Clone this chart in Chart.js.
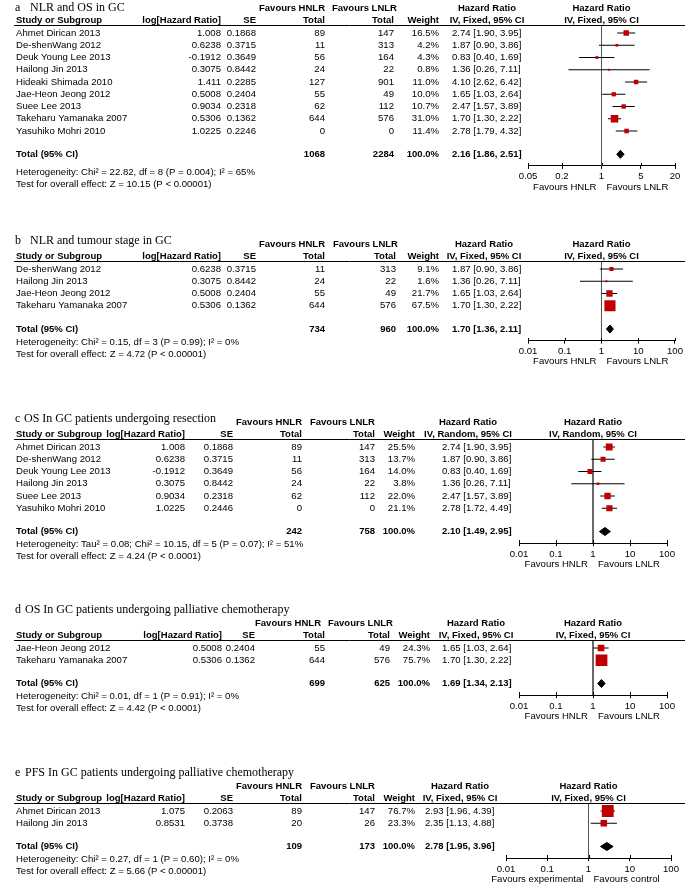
<!DOCTYPE html>
<html>
<head>
<meta charset="utf-8">
<script src="https://cdn.jsdelivr.net/npm/chart.js@4.4.1/dist/chart.umd.min.js"></script>
<style>
  body { margin: 0; background: #fff; }
  #wrap { position: relative; width: 685px; height: 884px; overflow: hidden; }
  #wrap canvas { position: absolute; left: 0; }
</style>
</head>
<body>
<div id="wrap">
  <canvas id="pa"></canvas>
  <canvas id="pb"></canvas>
  <canvas id="pc"></canvas>
  <canvas id="pd"></canvas>
  <canvas id="pe"></canvas>
</div>
<script>
// ---- data ----
// a: NLR and OS in GC
const aStudy = ['Ahmet Dirican 2013', 'De-shenWang 2012', 'Deuk Young Lee 2013', 'Hailong Jin 2013', 'Hideaki Shimada 2010', 'Jae-Heon Jeong 2012', 'Suee Lee 2013', 'Takeharu Yamanaka 2007', 'Yasuhiko Mohri 2010'];
const aLogHr = ['1.008', '0.6238', '-0.1912', '0.3075', '1.411', '0.5008', '0.9034', '0.5306', '1.0225'];
const aSe = ['0.1868', '0.3715', '0.3649', '0.8442', '0.2285', '0.2404', '0.2318', '0.1362', '0.2246'];
const aNh = [89, 11, 56, 24, 127, 55, 62, 644, 0];
const aNl = [147, 313, 164, 22, 901, 49, 112, 576, 0];
const aWeight = [16.5, 4.2, 4.3, 0.8, 11.0, 10.0, 10.7, 31.0, 11.4];
const aHr = [2.74, 1.87, 0.83, 1.36, 4.10, 1.65, 2.47, 1.70, 2.78];
const aLo = [1.90, 0.90, 0.40, 0.26, 2.62, 1.03, 1.57, 1.30, 1.79];
const aHi = [3.95, 3.86, 1.69, 7.11, 6.42, 2.64, 3.89, 2.22, 4.32];
const aTotal = [1068, 2284];
const aPooled = [2.16, 1.86, 2.51];
const aTicks = [0.05, 0.2, 1, 5, 20];
const aTickLabels = ['0.05', '0.2', '1', '5', '20'];

// b: NLR and tumour stage in GC
const bStudy = ['De-shenWang 2012', 'Hailong Jin 2013', 'Jae-Heon Jeong 2012', 'Takeharu Yamanaka 2007'];
const bLogHr = ['0.6238', '0.3075', '0.5008', '0.5306'];
const bSe = ['0.3715', '0.8442', '0.2404', '0.1362'];
const bNh = [11, 24, 55, 644];
const bNl = [313, 22, 49, 576];
const bWeight = [9.1, 1.6, 21.7, 67.5];
const bHr = [1.87, 1.36, 1.65, 1.70];
const bLo = [0.90, 0.26, 1.03, 1.30];
const bHi = [3.86, 7.11, 2.64, 2.22];
const bTotal = [734, 960];
const bPooled = [1.70, 1.36, 2.11];

// c: OS in GC patients undergoing resection
const cStudy = ['Ahmet Dirican 2013', 'De-shenWang 2012', 'Deuk Young Lee 2013', 'Hailong Jin 2013', 'Suee Lee 2013', 'Yasuhiko Mohri 2010'];
const cLogHr = ['1.008', '0.6238', '-0.1912', '0.3075', '0.9034', '1.0225'];
const cSe = ['0.1868', '0.3715', '0.3649', '0.8442', '0.2318', '0.2446'];
const cNh = [89, 11, 56, 24, 62, 0];
const cNl = [147, 313, 164, 22, 112, 0];
const cWeight = [25.5, 13.7, 14.0, 3.8, 22.0, 21.1];
const cHr = [2.74, 1.87, 0.83, 1.36, 2.47, 2.78];
const cLo = [1.90, 0.90, 0.40, 0.26, 1.57, 1.72];
const cHi = [3.95, 3.86, 1.69, 7.11, 3.89, 4.49];
const cTotal = [242, 758];
const cPooled = [2.10, 1.49, 2.95];

// d: OS in GC patients undergoing palliative chemotherapy
const dStudy = ['Jae-Heon Jeong 2012', 'Takeharu Yamanaka 2007'];
const dLogHr = ['0.5008', '0.5306'];
const dSe = ['0.2404', '0.1362'];
const dNh = [55, 644];
const dNl = [49, 576];
const dWeight = [24.3, 75.7];
const dHr = [1.65, 1.70];
const dLo = [1.03, 1.30];
const dHi = [2.64, 2.22];
const dTotal = [699, 625];
const dPooled = [1.69, 1.34, 2.13];

// e: PFS in GC patients undergoing palliative chemotherapy
const eStudy = ['Ahmet Dirican 2013', 'Hailong Jin 2013'];
const eLogHr = ['1.075', '0.8531'];
const eSe = ['0.2063', '0.3738'];
const eNh = [89, 20];
const eNl = [147, 26];
const eWeight = [76.7, 23.3];
const eHr = [2.93, 2.35];
const eLo = [1.96, 1.13];
const eHi = [4.39, 4.88];
const eTotal = [109, 173];
const ePooled = [2.78, 1.95, 3.96];

const wideTicks = [0.01, 0.1, 1, 10, 100];
const wideTickLabels = ['0.01', '0.1', '1', '10', '100'];

// ---- drawing ----
const SANS = "'Liberation Sans', Arial, sans-serif";
const SERIF = "'Liberation Serif', 'Times New Roman', serif";
const PITCH = 12.25;
const RED = '#c00000';
const REG = '9.6px ';
const BOLD = 'bold 9.5px ';

function ci(h, l, u) {
  return h.toFixed(2) + ' [' + l.toFixed(2) + ', ' + u.toFixed(2) + ']';
}

function forest(id, p, lay) {
  const n = p.study.length;
  const totalRow = n + 0.9;
  const axisRow = totalRow + 0.95;
  const hetRow = totalRow + lay.hetGap;
  const topRow = -0.65;
  const AX_H = 26;
  const chartH = (axisRow - topRow) * PITCH;
  const padTop = lay.head + topRow * PITCH;
  const H = Math.round(lay.head + axisRow * PITCH + 30);
  const padBottom = H - padTop - chartH - AX_H;

  const canvas = document.getElementById(id);
  canvas.width = 685;
  canvas.height = H;
  canvas.style.top = (lay.row0 - lay.head) + 'px';

  const squares = p.hr.map((v, i) => ({ x: v, y: i }));
  const radii = p.weight.map(w => Math.max(2, 1.35 * Math.sqrt(w)) / (2 * Math.SQRT1_2));
  const whiskers = [];
  p.lo.forEach((l, i) => {
    whiskers.push({ x: l, y: i }, { x: p.hi[i], y: i }, { x: 1, y: null });
  });
  const dh = 0.33;
  const [ph, pl, pu] = p.pooled;
  const diamond = [
    { x: pl, y: totalRow }, { x: ph, y: totalRow - dh }, { x: pu, y: totalRow },
    { x: ph, y: totalRow + dh }, { x: pl, y: totalRow }
  ];
  const noEffect = [{ x: 1, y: topRow }, { x: 1, y: axisRow }];

  const table = {
    id: 'table' + id,
    afterDraw(chart) {
      const { ctx, scales: { x, y } } = chart;
      const Y = r => y.getPixelForValue(r);
      const c = lay.cols;
      const mid = x.getPixelForValue(1);
      const text = (s, px, py, align, bold) => {
        ctx.font = (bold ? BOLD : REG) + SANS;
        ctx.textAlign = align;
        ctx.fillText(s, px, py);
      };
      ctx.save();
      ctx.fillStyle = '#000';
      ctx.textBaseline = 'middle';
      // title
      ctx.font = '12px ' + SERIF;
      ctx.textAlign = 'left';
      ctx.fillText(p.letter, 15, Y(lay.titleRow));
      ctx.fillText(p.title, lay.titleX, Y(lay.titleRow));
      // group headers
      text(p.fav[0], c.favH, Y(-2), 'right', true);
      text(p.fav[1], c.favL, Y(-2), 'left', true);
      text('Hazard Ratio', c.hrHead, Y(-2), 'center', true);
      text('Hazard Ratio', mid, Y(-2), 'center', true);
      // column headers
      text('Study or Subgroup', c.study, Y(-1), 'left', true);
      text('log[Hazard Ratio]', c.logHr, Y(-1), 'right', true);
      text('SE', c.se, Y(-1), 'right', true);
      text('Total', c.nh, Y(-1), 'right', true);
      text('Total', c.nl, Y(-1), 'right', true);
      text('Weight', c.wt, Y(-1), 'right', true);
      text(p.method, c.hrHead, Y(-1), 'center', true);
      text(p.method, mid, Y(-1), 'center', true);
      ctx.strokeStyle = '#000';
      ctx.lineWidth = 1;
      ctx.beginPath();
      const ry = Math.round(Y(topRow)) + 0.5;
      ctx.moveTo(14, ry);
      ctx.lineTo(685, ry);
      ctx.stroke();
      // upper halves of the axis tick marks
      const ay = Math.round(Y(axisRow));
      ctx.beginPath();
      x.ticks.forEach(t => {
        const tx = Math.round(x.getPixelForValue(t.value)) + 0.5;
        ctx.moveTo(tx, ay - 3);
        ctx.lineTo(tx, ay);
      });
      ctx.stroke();
      // study rows
      p.study.forEach((s, i) => {
        const py = Y(i);
        text(s, c.study, py, 'left');
        text(p.logHr[i], c.logHr, py, 'right');
        text(p.se[i], c.se, py, 'right');
        text(String(p.nh[i]), c.nh, py, 'right');
        text(String(p.nl[i]), c.nl, py, 'right');
        text(p.weight[i].toFixed(1) + '%', c.wt, py, 'right');
        text(ci(p.hr[i], p.lo[i], p.hi[i]), c.hr, py, 'left');
      });
      // total
      const ty = Y(totalRow);
      text('Total (95% CI)', c.study, ty, 'left', true);
      text(String(p.total[0]), c.nh, ty, 'right', true);
      text(String(p.total[1]), c.nl, ty, 'right', true);
      text('100.0%', c.wt, ty, 'right', true);
      text(ci(ph, pl, pu), c.hr, ty, 'left', true);
      text(p.het, c.study, Y(hetRow), 'left');
      text(p.test, c.study, Y(hetRow + 0.98), 'left');
      // favours under axis
      const fy = Y(axisRow) + 21;
      text(p.favAxis[0], mid - 5, fy, 'right');
      text(p.favAxis[1], mid + 5, fy, 'left');
      ctx.restore();
    }
  };

  return new Chart(canvas, {
    type: 'scatter',
    data: {
      datasets: [
        { type: 'scatter', data: squares, pointStyle: 'rect', pointRadius: radii,
          backgroundColor: RED, borderColor: RED, borderWidth: 0 },
        { type: 'line', data: diamond, fill: 'shape', backgroundColor: '#000',
          borderColor: '#000', borderWidth: 1, pointRadius: 0, tension: 0 },
        { type: 'line', data: whiskers, borderColor: '#000', borderWidth: 1,
          pointRadius: 0, spanGaps: false, fill: false },
        { type: 'line', data: noEffect, borderColor: '#555', borderWidth: 1,
          pointRadius: 0, fill: false }
      ]
    },
    options: {
      responsive: false,
      animation: false,
      devicePixelRatio: 1,
      layout: { padding: { left: lay.plot[0], right: 685 - lay.plot[1], top: padTop, bottom: padBottom } },
      plugins: { legend: { display: false }, tooltip: { enabled: false } },
      scales: {
        x: {
          type: 'logarithmic',
          min: p.ticks[0],
          max: p.ticks[p.ticks.length - 1],
          afterBuildTicks: s => { s.ticks = p.ticks.map(v => ({ value: v })); },
          afterFit: s => { s.height = AX_H; },
          border: { display: true, color: '#000', width: 1 },
          grid: { display: true, drawOnChartArea: false, drawTicks: true, tickLength: 3, color: '#000' },
          ticks: {
            autoSkip: false, maxRotation: 0, padding: 2, color: '#000',
            font: { family: SANS, size: 9.6 },
            callback: v => p.tickLabels[p.ticks.indexOf(v)]
          }
        },
        y: { type: 'linear', display: false, reverse: true, min: topRow, max: axisRow }
      }
    },
    plugins: [table]
  });
}

const favHL = ['Favours HNLR', 'Favours LNLR'];
const fixed = 'IV, Fixed, 95% CI';
const random = 'IV, Random, 95% CI';

forest('pa', {
  letter: 'a', title: 'NLR and OS in GC', method: fixed,
  study: aStudy, logHr: aLogHr, se: aSe, nh: aNh, nl: aNl, weight: aWeight,
  hr: aHr, lo: aLo, hi: aHi, total: aTotal, pooled: aPooled,
  het: 'Heterogeneity: Chi\u00b2 = 22.82, df = 8 (P = 0.004); I\u00b2 = 65%',
  test: 'Test for overall effect: Z = 10.15 (P < 0.00001)',
  fav: favHL, favAxis: favHL, ticks: aTicks, tickLabels: aTickLabels
}, { row0: 33, head: 33, titleRow: -2.05, titleX: 30, hetGap: 1.5,
     cols: { study: 16, logHr: 221, se: 256, nh: 325, nl: 394, wt: 439, hr: 452, hrHead: 487, favH: 325, favL: 332 },
     plot: [528, 675] });

forest('pb', {
  letter: 'b', title: 'NLR and tumour stage in GC', method: fixed,
  study: bStudy, logHr: bLogHr, se: bSe, nh: bNh, nl: bNl, weight: bWeight,
  hr: bHr, lo: bLo, hi: bHi, total: bTotal, pooled: bPooled,
  het: 'Heterogeneity: Chi\u00b2 = 0.15, df = 3 (P = 0.99); I\u00b2 = 0%',
  test: 'Test for overall effect: Z = 4.72 (P < 0.00001)',
  fav: favHL, favAxis: favHL, ticks: wideTicks, tickLabels: wideTickLabels
}, { row0: 269, head: 45, titleRow: -2.3, titleX: 30, hetGap: 1.05,
     cols: { study: 16, logHr: 221, se: 256, nh: 325, nl: 396, wt: 439, hr: 452, hrHead: 484, favH: 325, favL: 333 },
     plot: [528, 675] });

forest('pc', {
  letter: 'c', title: 'OS In GC patients undergoing resection', method: random,
  study: cStudy, logHr: cLogHr, se: cSe, nh: cNh, nl: cNl, weight: cWeight,
  hr: cHr, lo: cLo, hi: cHi, total: cTotal, pooled: cPooled,
  het: 'Heterogeneity: Tau\u00b2 = 0.08; Chi\u00b2 = 10.15, df = 5 (P = 0.07); I\u00b2 = 51%',
  test: 'Test for overall effect: Z = 4.24 (P < 0.0001)',
  fav: favHL, favAxis: favHL, ticks: wideTicks, tickLabels: wideTickLabels
}, { row0: 447, head: 45, titleRow: -2.3, titleX: 24, hetGap: 1.05,
     cols: { study: 16, logHr: 185, se: 233, nh: 302, nl: 375, wt: 415, hr: 442, hrHead: 468, favH: 302, favL: 310 },
     plot: [519, 667] });

forest('pd', {
  letter: 'd', title: 'OS In GC patients undergoing palliative chemotherapy', method: fixed,
  study: dStudy, logHr: dLogHr, se: dSe, nh: dNh, nl: dNl, weight: dWeight,
  hr: dHr, lo: dLo, hi: dHi, total: dTotal, pooled: dPooled,
  het: 'Heterogeneity: Chi\u00b2 = 0.01, df = 1 (P = 0.91); I\u00b2 = 0%',
  test: 'Test for overall effect: Z = 4.42 (P < 0.0001)',
  fav: favHL, favAxis: favHL, ticks: wideTicks, tickLabels: wideTickLabels
}, { row0: 648, head: 45, titleRow: -3.1, titleX: 25, hetGap: 1.05,
     cols: { study: 16, logHr: 222, se: 255, nh: 325, nl: 390, wt: 430, hr: 442, hrHead: 476, favH: 321, favL: 328 },
     plot: [519, 667] });

forest('pe', {
  letter: 'e', title: 'PFS In GC patients undergoing palliative chemotherapy', method: fixed,
  study: eStudy, logHr: eLogHr, se: eSe, nh: eNh, nl: eNl, weight: eWeight,
  hr: eHr, lo: eLo, hi: eHi, total: eTotal, pooled: ePooled,
  het: 'Heterogeneity: Chi\u00b2 = 0.27, df = 1 (P = 0.60); I\u00b2 = 0%',
  test: 'Test for overall effect: Z = 5.66 (P < 0.00001)',
  fav: favHL, favAxis: ['Favours experimental', 'Favours control'], ticks: wideTicks, tickLabels: wideTickLabels
}, { row0: 811, head: 45, titleRow: -3.1, titleX: 25, hetGap: 1.05,
     cols: { study: 16, logHr: 185, se: 233, nh: 302, nl: 375, wt: 415, hr: 425, hrHead: 460, favH: 302, favL: 310 },
     plot: [506, 671] });
</script>
</body>
</html>
